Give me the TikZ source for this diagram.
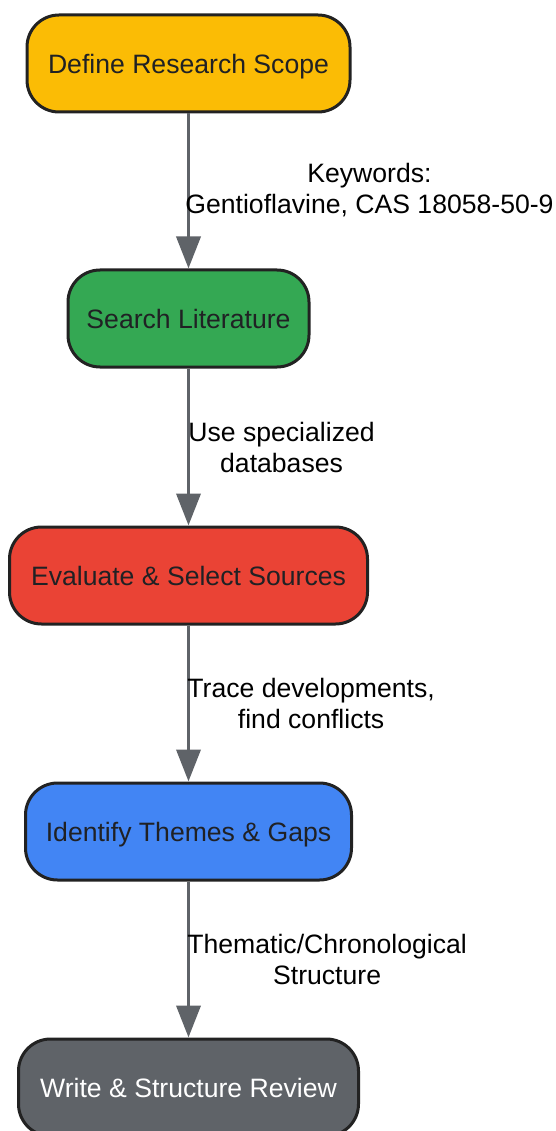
\documentclass[tikz,border=0pt]{standalone}
\usepackage{fontspec}
\setmainfont{Liberation Sans}
\usetikzlibrary{arrows.meta}
\definecolor{cyellow}{HTML}{FBBC05}
\definecolor{cgreen}{HTML}{34A853}
\definecolor{cred}{HTML}{EA4335}
\definecolor{cblue}{HTML}{4285F4}
\definecolor{cgrey}{HTML}{5F6368}
\definecolor{cborder}{HTML}{222222}
\definecolor{ctext}{HTML}{202124}
\tikzset{
  x=1pt,y=-1pt,
  stepbox/.style={draw=cborder,line width=3pt,rounded corners=32pt,minimum height=97pt,
    font=\fontsize{26.6}{31}\selectfont,text=ctext,inner sep=0pt,text height=20pt,text depth=0pt},
  conn/.style={draw=cgrey,line width=3.8pt,-{Triangle[width=24pt,length=32pt]}},
  elabel/.style={font=\fontsize{26.6}{31}\selectfont,align=center,anchor=west,inner sep=0pt,text=black}
}
\begin{document}
\begin{tikzpicture}
\useasboundingbox (0,0) rectangle (556,1131);
\begin{scope}
\clip (0,0) rectangle (556,1131);
\node[stepbox,fill=cyellow,minimum width=323pt] (a) at (188.5,63.5) {Define Research Scope};
\node[stepbox,fill=cgreen,minimum width=241pt] (b) at (188.5,318.5) {Search Literature};
\node[stepbox,fill=cred,minimum width=358pt] (c) at (188.5,575.5) {Evaluate \& Select Sources};
\node[stepbox,fill=cblue,minimum width=326pt] (d) at (188.5,831.5) {Identify Themes \& Gaps};
\node[stepbox,fill=cgrey,minimum width=340pt,text=white] (e) at (188.5,1087.5) {Write \& Structure Review};
\end{scope}
\draw[conn] (a.south) -- (b.north) node[midway,elabel,xshift=-5pt,yshift=1pt] {Keywords:\\Gentioflavine, CAS 18058-50-9};
\draw[conn] (b.south) -- (c.north) node[midway,elabel,xshift=-2pt] {Use specialized\\databases};
\draw[conn] (c.south) -- (d.north) node[midway,elabel,xshift=-3pt] {Trace developments,\\find conflicts};
\draw[conn] (d.south) -- (e.north) node[midway,elabel,xshift=-3pt] {Thematic/Chronological\\Structure};
\end{tikzpicture}
\end{document}
